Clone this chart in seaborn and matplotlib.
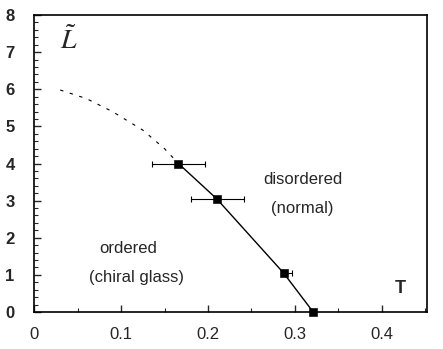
import matplotlib
matplotlib.use("Agg")
import matplotlib.pyplot as plt
import seaborn as sns
import pandas as pd
from matplotlib.ticker import MultipleLocator

sns.set_theme(style="ticks")
plt.rcParams['font.family'] = ['Liberation Sans', 'DejaVu Sans']
plt.rcParams['mathtext.fontset'] = 'stix'

# Data points (T, L) with horizontal error bars
T_pts = [0.166, 0.210, 0.287, 0.321]
L_pts = [4.0, 3.05, 1.05, 0.0]
T_err_lo = [0.030, 0.030, 0.0, 0.0]
T_err_hi = [0.031, 0.031, 0.010, 0.0]

# Dashed extrapolated phase boundary
T_dash = [0.03, 0.06, 0.09, 0.125, 0.15, 0.166]
L_dash = [5.98, 5.75, 5.4, 4.9, 4.4, 4.0]

x_ticks = [0, 0.1, 0.2, 0.3, 0.4]
x_tick_labels = ["0", "0.1", "0.2", "0.3", "0.4"]
y_ticks = [0, 1, 2, 3, 4, 5, 6, 7, 8]

fig = plt.figure(figsize=(4.43, 3.49), dpi=100)
ax = fig.add_axes([0.077, 0.106, 0.887, 0.851])

df_pts = pd.DataFrame({"T": T_pts, "L": L_pts})
df_dash = pd.DataFrame({"T": T_dash, "L": L_dash})

sns.lineplot(data=df_pts, x="T", y="L", ax=ax, color="black", lw=1.0, sort=False)
sns.lineplot(data=df_dash, x="T", y="L", ax=ax, color="black", lw=0.8,
             linestyle=(0, (3, 6)), sort=False)
ax.errorbar(T_pts, L_pts, xerr=[T_err_lo, T_err_hi], fmt="none",
            ecolor="black", elinewidth=0.8, capsize=2.5, capthick=0.8)
sns.scatterplot(data=df_pts, x="T", y="L", ax=ax, marker="s", s=30,
                color="black", edgecolor="black", zorder=5, clip_on=False)

ax.set_xlim(0, 0.452)
ax.set_ylim(0, 8)
ax.set_xticks(x_ticks)
ax.set_xticklabels(x_tick_labels)
ax.set_yticks(y_ticks)
ax.xaxis.set_minor_locator(MultipleLocator(0.05))
ax.yaxis.set_minor_locator(MultipleLocator(0.2))
ax.tick_params(which="major", direction="in", length=5, width=1, labelsize=12,
               top=False, right=False)
ax.tick_params(axis="x", which="major", pad=11)
ax.tick_params(axis="y", which="major", pad=14)
ax.tick_params(which="minor", direction="in", length=3, width=0.8,
               top=False, right=False)
for lab in ax.get_yticklabels():
    lab.set_fontweight("bold")
for s in ax.spines.values():
    s.set_linewidth(1.2)
    s.set_color("black")
ax.set_xlabel("")
ax.set_ylabel("")

ax.text(0.03, 7.3, r"$\tilde{L}$", fontsize=20, ha="left", va="center")
ax.text(0.309, 3.57, "disordered", fontsize=12, ha="center", va="center")
ax.text(0.309, 2.78, "(normal)", fontsize=12, ha="center", va="center")
ax.text(0.108, 1.7, "ordered", fontsize=12, ha="center", va="center")
ax.text(0.118, 0.93, "(chiral glass)", fontsize=12, ha="center", va="center")
ax.text(0.421, 0.62, "T", fontsize=13, fontweight="bold", ha="center", va="center")

fig.savefig("out.png", dpi=100)
